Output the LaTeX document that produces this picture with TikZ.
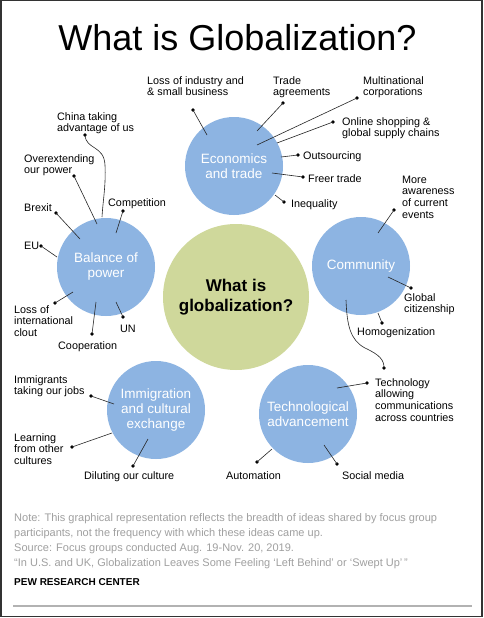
\documentclass[tikz,border=0pt]{standalone}
\usepackage{fontspec}
\setmainfont{Liberation Sans}
\definecolor{bubble}{RGB}{141,180,226}
\definecolor{core}{RGB}{207,216,155}
\definecolor{notegray}{RGB}{160,160,160}
\begin{document}
\begin{tikzpicture}[x=1pt,y=-1pt,
  bub/.style={circle,fill=bubble,minimum size=98pt,inner sep=0pt,text=white,align=center,
    font=\fontsize{13.5}{15}\selectfont},
  lab/.style={anchor=base west,inner sep=0pt,align=left,font=\fontsize{10.8}{11.7}\selectfont},
  labr/.style={anchor=base east,inner sep=0pt,align=left,font=\fontsize{10.8}{11.7}\selectfont},
  dot/.style={circle,fill=black,inner sep=0pt,minimum size=3.6pt},
  lnk/.style={draw=black!85,line width=0.6pt},
  note/.style={anchor=base west,inner sep=0pt,text=notegray,font=\fontsize{11}{12}\selectfont}]
\useasboundingbox (0,0) rectangle (484,618);
\fill[white] (0,0) rectangle (484,618);
\draw[black!80,line width=1.5pt] (0.75,0.75) rectangle (482,616.5);

\node[anchor=base,inner sep=0pt,font=\fontsize{36}{40}\selectfont] (title) at (237.5,51) {What is Globalization?};

% circles
\node[circle,fill=core,minimum size=146pt,inner sep=0pt,align=center,
  font=\fontsize{17}{20}\selectfont\bfseries] (c) at (236,297) {What is\\globalization?};
\node[bub] (eco) at (234,166) {Economics\\and trade};
\node[bub] (bal) at (106,267) {Balance of\\power};
\node[bub] (com) at (361,266) {Community};
\node[bub] (imm) at (156,410) {Immigration\\and cultural\\exchange};
\node[bub] (tec) at (308,414) {Technological\\advancement};

% Economics labels (anchor = baseline of last line)
\node[lab] (e1) at (147,95.7) {Loss of industry and\\\& small business};
\node[lab] (e2) at (273,95.7) {Trade\\agreements};
\node[lab] (e3) at (363,95.7) {Multinational\\corporations};
\node[lab] (e4) at (342,136.7) {Online shopping \&\\global supply chains};
\node[lab] (e5) at (303,159) {Outsourcing};
\node[lab] (e6) at (308,182) {Freer trade};
\node[lab] (e7) at (291,207) {Inequality};
\node[dot] (de1) at (193,110) {};
\node[dot] (de2) at (283,103) {};
\node[dot] (de3) at (357,98) {};
\node[dot] (de4) at (333,122) {};
\node[dot] (de5) at (298,155) {};
\node[dot] (de6) at (303,177) {};
\node[dot] (de7) at (284,202) {};
\coordinate (ee1) at (207,135);
\coordinate (ee2) at (257,131);
\coordinate (ee3) at (257,145);
\coordinate (ee4) at (277,143);
\coordinate (ee5) at (281,157);
\coordinate (ee6) at (272,173);
\coordinate (ee7) at (275,195);
\foreach \i in {1,...,7} {\draw[lnk] (de\i.center) -- (ee\i);}

% Community labels
\node[lab] (m1) at (402,218.1) {More\\awareness\\of current\\events};
\node[lab] (m2) at (404,312.7) {Global\\citizenship};
\node[lab] (m3) at (357,335) {Homogenization};
\node[dot] (dm1) at (394,210) {};
\node[dot] (dm2) at (411,288) {};
\node[dot] (dm3) at (382,323) {};
\coordinate (em1) at (378,233);
\coordinate (em2) at (388,277);
\coordinate (em3) at (378,313);
\foreach \i in {1,2,3} {\draw[lnk] (dm\i.center) -- (em\i);}

% Technological labels
\node[lab] (t1) at (375,421.1) {Technology\\allowing\\communications\\across countries};
\node[labr] (t2) at (281,479) {Automation};
\node[lab] (t3) at (342,479) {Social media};
\node[dot] (dt1) at (367,383) {};
\node[dot] (dt2) at (257,462) {};
\node[dot] (dt3) at (337,464) {};
\coordinate (et1) at (337,388);
\coordinate (et2) at (272,449);
\coordinate (et3) at (324,445);
\foreach \i in {1,2,3} {\draw[lnk] (dt\i.center) -- (et\i);}
\coordinate (cs) at (346,300);
\node[dot] (dcv) at (384,368) {};
\draw[lnk] (cs) .. controls (347,325) and (350,340) .. (365,348) .. controls (380,355) and (384,360) .. (dcv.center);

% Immigration labels
\node[lab] (i1) at (14,394.7) {Immigrants\\taking our jobs};
\node[lab] (i2) at (14,464.4) {Learning\\from other\\cultures};
\node[lab] (i3) at (84,479) {Diluting our culture};
\node[dot] (di1) at (91,396) {};
\node[dot] (di2) at (72,447) {};
\node[dot] (di3) at (133,466) {};
\coordinate (ei1) at (114,404);
\coordinate (ei2) at (112,433);
\coordinate (ei3) at (148,439);
\foreach \i in {1,2,3} {\draw[lnk] (di\i.center) -- (ei\i);}

% Balance labels
\node[lab] (b1) at (57,131.7) {China taking\\advantage of us};
\node[lab] (b2) at (24,173.7) {Overextending\\our power};
\node[lab] (b3) at (24,211) {Brexit};
\node[lab] (b4) at (108,206) {Competition};
\node[lab] (b5) at (24,249) {EU};
\node[lab] (b6) at (14,336.4) {Loss of\\international\\clout};
\node[lab] (b7) at (58,349) {Cooperation};
\node[lab] (b8) at (120,332) {UN};
\node[dot] (db1) at (85,135) {};
\node[dot] (db2) at (74,176) {};
\node[dot] (db3) at (56,213) {};
\node[dot] (db4) at (123,211) {};
\node[dot] (db5) at (41,246) {};
\node[dot] (db6) at (55,303) {};
\node[dot] (db7) at (92,334) {};
\node[dot] (db8) at (123,317) {};
\coordinate (eb1) at (102,217);
\coordinate (eb2) at (97,224);
\coordinate (eb3) at (80,239);
\coordinate (eb4) at (116,233);
\coordinate (eb5) at (57,257);
\coordinate (eb6) at (73,292);
\coordinate (eb7) at (96,302);
\coordinate (eb8) at (116,302);
\foreach \i in {2,...,8} {\draw[lnk] (db\i.center) -- (eb\i);}
\draw[lnk] (db1.center) .. controls (86,150) and (104,145) .. (105,165) .. controls (106,185) and (103,200) .. (eb1);

% footer
\node[note] (n1) at (14,521) {Note: This graphical representation reflects the breadth of ideas shared by focus group};
\node[note] (n2) at (14,536) {participants, not the frequency with which these ideas came up.};
\node[note] (n3) at (14,551) {Source: Focus groups conducted Aug. 19-Nov. 20, 2019.};
\node[note] (n4) at (14,566) {``In U.S. and UK, Globalization Leaves Some Feeling `Left Behind' or `Swept Up'\,''};
\node[anchor=base west,inner sep=0pt,font=\fontsize{10}{12}\selectfont\bfseries] (pew) at (14,585) {PEW RESEARCH CENTER};
\coordinate (r1) at (13,606);
\coordinate (r2) at (472,606);
\draw[black!30,line width=1.2pt] (r1) -- (r2);
\end{tikzpicture}
\end{document}
